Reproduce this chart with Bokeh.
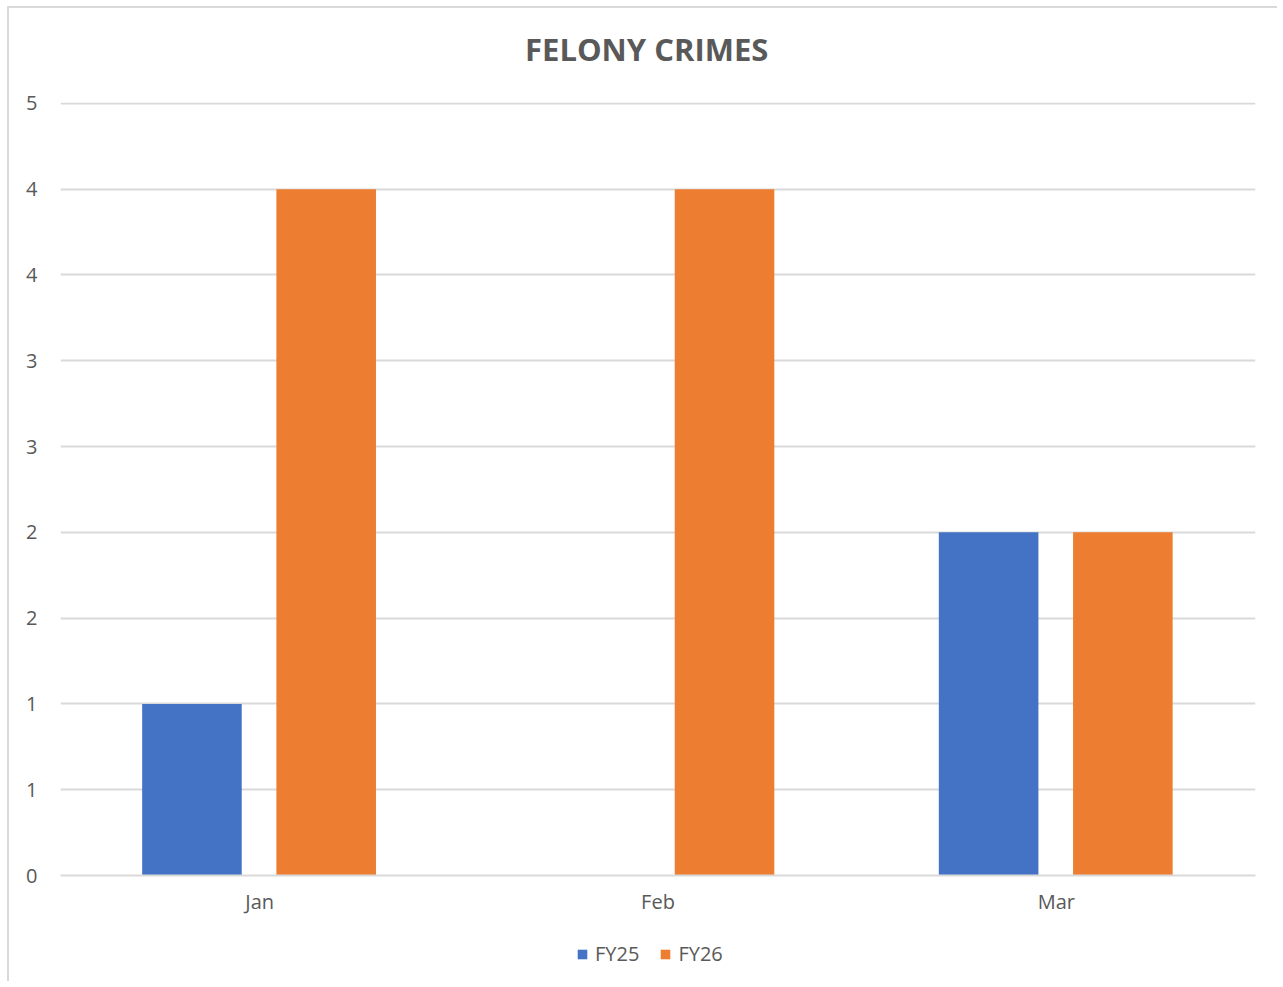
from bokeh.plotting import figure
from bokeh.models import ColumnDataSource, FixedTicker, Legend, LegendItem, Label, Range1d
from bokeh.layouts import column
from bokeh.transform import dodge
from bokeh.embed import file_html
from bokeh.resources import INLINE

title_text = "FELONY CRIMES"
months = ["Jan", "Feb", "Mar"]
fy25 = [1, 0, 2]
fy26 = [4, 4, 2]
series_names = ["FY25", "FY26"]
y_ticks = [0, 0.5, 1, 1.5, 2, 2.5, 3, 3.5, 4, 4.5]
y_tick_labels = ["0", "1", "1", "2", "2", "3", "3", "4", "4", "5"]

BLUE = "#4472C4"
ORANGE = "#ED7D31"
GRID = "#D9D9D9"
TEXT = "#595959"
FONT = "Open Sans"
W = 1268

src = ColumnDataSource(dict(month=months, fy25=fy25, fy26=fy26))


def strip(height):
    f = figure(width=W, height=height, x_range=Range1d(0, W), y_range=Range1d(0, height),
               output_backend="svg", toolbar_location=None, min_border=0,
               x_axis_location=None, y_axis_location=None)
    f.grid.visible = False
    f.outline_line_color = None
    f.border_fill_color = "white"
    f.background_fill_color = "white"
    return f


# title strip
p0 = strip(80)
p0.add_layout(Label(x=622, y=40, text=title_text, text_align="center", text_baseline="middle",
                    text_font=FONT, text_font_size="31px", text_font_style="bold",
                    text_color=TEXT))

# main chart
p = figure(
    x_range=months, y_range=(0, 4.505),
    width=W, height=832,
    output_backend="svg", toolbar_location=None,
    min_border_left=51, min_border_right=22, min_border_top=14, min_border_bottom=45,
)
p.outline_line_color = None
p.background_fill_color = "white"
p.border_fill_color = "white"

p.vbar(x=dodge("month", -0.170, range=p.x_range), top="fy25", width=0.25,
       source=src, fill_color=BLUE, line_color=None)
p.vbar(x=dodge("month", 0.167, range=p.x_range), top="fy26", width=0.25,
       source=src, fill_color=ORANGE, line_color=None)

p.yaxis.ticker = FixedTicker(ticks=y_ticks)
p.yaxis.major_label_overrides = {t: l for t, l in zip(y_ticks, y_tick_labels)}
p.yaxis.axis_line_color = None
p.yaxis.major_tick_line_color = None
p.yaxis.minor_tick_line_color = None
p.yaxis.major_label_standoff = 17
p.yaxis.major_label_text_font = FONT
p.yaxis.major_label_text_font_size = "20px"
p.yaxis.major_label_text_color = TEXT

p.xaxis.axis_line_color = GRID
p.xaxis.axis_line_width = 2
p.xaxis.major_tick_line_color = None
p.xaxis.minor_tick_line_color = None
p.xaxis.major_label_standoff = 6
p.xaxis.major_label_text_font = FONT
p.xaxis.major_label_text_font_size = "20px"
p.xaxis.major_label_text_color = TEXT

p.xgrid.grid_line_color = None
p.ygrid.grid_line_color = GRID
p.ygrid.grid_line_width = 2

# legend strip: hidden key renderers only supply the legend swatches
p2 = figure(width=W, height=61, x_range=months, y_range=Range1d(0, 5),
            output_backend="svg", toolbar_location=None, min_border=0,
            x_axis_location=None, y_axis_location=None)
p2.grid.visible = False
p2.outline_line_color = None
p2.border_fill_color = "white"
p2.background_fill_color = "white"
k1 = p2.vbar(x="month", top="fy25", width=0.25, source=src, fill_color=BLUE, line_color=None)
k2 = p2.vbar(x="month", top="fy26", width=0.25, source=src, fill_color=ORANGE, line_color=None)
k1.visible = False
k2.visible = False

legend = Legend(
    items=[LegendItem(label=series_names[0], renderers=[k1]),
           LegendItem(label=series_names[1], renderers=[k2])],
    orientation="horizontal", location=(516, 14),
    border_line_color=None, background_fill_alpha=0,
    glyph_width=12, glyph_height=12, label_standoff=7, spacing=20,
    padding=2, margin=0,
    label_text_font=FONT, label_text_font_size="20px", label_text_color=TEXT,
)
p2.add_layout(legend, "center")

layout = column(p0, p, p2, spacing=0,
                styles={"border-top": "2px solid #D9D9D9", "border-left": "2px solid #D9D9D9",
                        "margin-left": "7px", "margin-top": "6px"})

open("out.html", "w").write(file_html(layout, INLINE))
